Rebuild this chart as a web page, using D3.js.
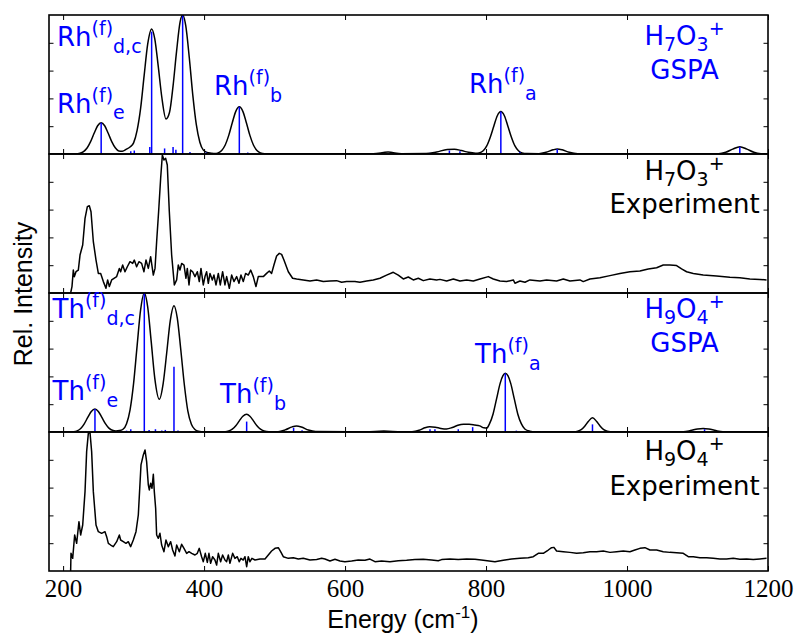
<!DOCTYPE html>
<html><head><meta charset="utf-8">
<script src="https://cdn.jsdelivr.net/npm/d3@7"></script>
<style>html,body{margin:0;padding:0;background:#fff;}</style>
</head><body>
<svg id="c" width="795" height="637"></svg>
<script>
// ---------------- DATA ----------------
const xTicks = [200, 400, 600, 800, 1000, 1200];
const yTicks = [0.2, 0.4, 0.6, 0.8];
const xDomain = [180, 1200];

// H7O3+ GSPA broadened spectrum [energy, rel. intensity]
const h7o3Gspa = [[180,0],[218,0],[224,0.005],[229,0.017],[234,0.043],[239,0.089],[244,0.149],[249,0.203],[254,0.225],[259,0.203],[264,0.149],[269,0.089],[274,0.045],[279,0.022],[284,0.02],[290,0.035],[295,0.05],[300,0.08],[305,0.17],[310,0.33],[315,0.566],[320,0.79],[325.6,0.9],[330,0.83],[335,0.63],[340,0.41],[346,0.252],[351,0.30],[356,0.49],[361,0.74],[366,0.95],[369.6,1.0],[374,0.923],[379,0.694],[384,0.424],[389,0.211],[394,0.085],[399,0.028],[404,0.012],[410,0.006],[415,0.003],[420,0.008],[425,0.026],[430,0.065],[435,0.134],[440,0.225],[445,0.307],[450,0.34],[455,0.307],[460,0.225],[465,0.134],[470,0.065],[475,0.026],[480,0.008],[486,0.002],[640,0.002],[661,0.014],[680,0.002],[715,0.003],[730,0.015],[745,0.032],[755,0.034],[765,0.025],[775,0.012],[785,0.006],[790,0.008],[796,0.023],[801,0.058],[806,0.121],[811,0.2],[816,0.275],[821,0.305],[826,0.275],[831,0.2],[836,0.121],[841,0.058],[846,0.023],[851,0.008],[858,0.003],[875,0.002],[885,0.012],[895,0.03],[901,0.036],[908,0.03],[918,0.012],[930,0.002],[1130,0.002],[1140,0.012],[1150,0.035],[1160,0.053],[1170,0.035],[1180,0.012],[1190,0.002],[1200,0]];
// H7O3+ GSPA sticks [energy, intensity]
const h7o3Sticks = [[254,0.225],[296,0.02],[301,0.025],[323,0.05],[325.6,0.88],[344,0.04],[356,0.05],[360,0.03],[369.6,1.0],[380,0.015],[403,0.01],[450,0.34],[462,0.01],[720,0.008],[748,0.025],[763,0.02],[821,0.305],[848,0.015],[901,0.036],[1160,0.053]];

// H7O3+ experiment [energy, rel. intensity]
const h7o3Exp = [[210.7,0],[212.6,0.046],[214.5,0.165],[215.9,0.117],[218.3,0.153],[221.6,0.165],[224.0,0.273],[227.8,0.345],[231.1,0.537],[234.4,0.621],[237.2,0.628],[239.6,0.585],[242.9,0.369],[246.7,0.237],[250.0,0.141],[253.3,0.141],[257.1,0.082],[260.8,0.034],[263.2,0.094],[265.6,0.046],[268.9,0.094],[272.2,0.106],[276.0,0.118],[279.8,0.177],[281.6,0.153],[284.5,0.201],[287.8,0.153],[291.1,0.189],[294.9,0.225],[298.7,0.213],[301.0,0.237],[304.3,0.189],[307.6,0.225],[311.4,0.213],[314.7,0.153],[317.6,0.237],[320.9,0.177],[324.2,0.261],[328.0,0.129],[330.4,0.177],[332.7,0.369],[335.5,0.585],[338.4,0.825],[340.8,0.993],[343.1,0.957],[345.5,0.969],[347.8,0.921],[350.7,0.585],[354.0,0.273],[357.8,0.058],[361.1,0.094],[363.4,0.201],[365.8,0.165],[368.2,0.213],[371.5,0.201],[374.3,0.106],[376.2,0.177],[378.6,0.058],[380.9,0.165],[383.8,0.153],[387.1,0.118],[390.4,0.153],[393.2,0.082],[395.6,0.177],[398.9,0.058],[401.3,0.118],[403.6,0.153],[406.0,0.070],[408.4,0.141],[411.7,0.094],[414.0,0.129],[416.9,0.058],[420.2,0.141],[423.0,0.058],[426.3,0.153],[429.6,0.058],[432.0,0.118],[435.8,0.034],[439.1,0.129],[442.4,0.082],[446.2,0.118],[449.5,0.070],[452.3,0.129],[455.6,0.082],[458.9,0.141],[462.7,0.129],[466.1,0.165],[469.8,0.118],[473.6,0.046],[476.9,0.118],[480.7,0.118],[484.0,0.118],[488.7,0.141],[492.5,0.158],[495.8,0.141],[499.1,0.201],[502.9,0.266],[506.7,0.285],[510.0,0.278],[513.3,0.237],[519.5,0.153],[525.6,0.106],[531.3,0.101],[540.7,0.094],[550.2,0.086],[559.7,0.094],[569.1,0.082],[578.6,0.086],[588.0,0.089],[595.1,0.077],[602.2,0.082],[614.0,0.082],[621.1,0.077],[630.6,0.086],[640.0,0.094],[649.5,0.106],[658.9,0.129],[668.4,0.149],[675.5,0.129],[682.6,0.101],[689.7,0.115],[696.8,0.094],[703.9,0.106],[711.0,0.089],[720.4,0.101],[729.9,0.094],[734.6,0.098],[744.1,0.086],[753.6,0.101],[763.0,0.086],[772.5,0.094],[781.9,0.086],[791.4,0.101],[803.2,0.118],[810.3,0.101],[819.7,0.086],[829.2,0.082],[838.7,0.094],[841.0,0.070],[848.1,0.086],[855.2,0.077],[862.3,0.094],[876.5,0.086],[885.9,0.094],[900.1,0.086],[909.6,0.101],[919.0,0.086],[933.2,0.094],[937.9,0.082],[947.4,0.101],[961.6,0.110],[975.8,0.125],[989.9,0.141],[1004.1,0.153],[1018.3,0.158],[1030.1,0.173],[1042.0,0.182],[1051.4,0.201],[1060.9,0.201],[1070.3,0.197],[1077.4,0.173],[1084.5,0.153],[1094.0,0.141],[1108.1,0.129],[1127.0,0.122],[1145.9,0.113],[1160.1,0.110],[1174.3,0.101],[1188.5,0.098],[1197.9,0.094]];

// H9O4+ GSPA broadened spectrum
const h9o4Gspa = [[180,0],[205,0],[215,0.002],[220,0.008],[225,0.025],[230,0.059],[235,0.105],[240,0.148],[245.2,0.166],[250,0.148],[255,0.105],[260,0.06],[265,0.028],[270,0.012],[275,0.008],[280,0.01],[285,0.02],[290,0.06],[295,0.16],[300,0.35],[305,0.62],[310,0.88],[315.2,1.0],[320,0.9],[325,0.65],[330,0.39],[336.5,0.235],[342,0.35],[347,0.57],[352,0.80],[357.3,0.909],[362,0.82],[367,0.59],[372,0.34],[377,0.15],[382,0.055],[387,0.018],[392,0.006],[400,0.002],[430,0.002],[435,0.007],[440,0.02],[445,0.045],[450,0.08],[455,0.113],[460.4,0.127],[465,0.113],[470,0.08],[475,0.045],[480,0.02],[485,0.007],[492,0.001],[505,0.002],[515,0.015],[525,0.037],[531,0.043],[538,0.036],[548,0.014],[558,0.003],[630,0.001],[655,0.008],[680,0.001],[695,0.002],[705,0.012],[713,0.03],[720,0.038],[728,0.035],[736,0.026],[744,0.022],[752,0.032],[760,0.048],[768,0.055],[776,0.055],[784,0.05],[791,0.044],[797,0.03],[801,0.028],[805,0.06],[810,0.13],[815,0.24],[820,0.35],[824,0.405],[827.3,0.422],[831,0.405],[835,0.35],[840,0.24],[845,0.13],[850,0.06],[855,0.022],[862,0.006],[870,0.001],[925,0.002],[930,0.006],[935,0.017],[940,0.042],[945,0.075],[951,0.103],[957,0.075],[962,0.042],[967,0.017],[972,0.006],[980,0.001],[1080,0.002],[1090,0.01],[1100,0.022],[1108,0.026],[1116,0.022],[1126,0.01],[1136,0.002],[1200,0]];
const h9o4Sticks = [[245.2,0.166],[290,0.01],[296,0.02],[315.2,1.0],[322,0.015],[331,0.02],[340,0.01],[345,0.015],[357.3,0.47],[363,0.01],[380,0.005],[460.4,0.075],[527,0.03],[539,0.012],[720.5,0.02],[727.5,0.02],[760.6,0.02],[781,0.035],[827.3,0.422],[843,0.01],[879,0.006],[951,0.055],[1094,0.008],[1110,0.02]];

// H9O4+ experiment
const h9o4Exp = [[210.7,0],[211.2,0.127],[213.6,0.091],[216.4,0.259],[219.2,0.199],[222.5,0.355],[224.9,0.259],[227.8,0.331],[231.1,0.571],[233.4,0.859],[235.8,0.990],[238.1,1.0],[240.5,0.859],[242.9,0.571],[246.7,0.331],[250.0,0.283],[254.7,0.271],[259.4,0.283],[261.8,0.247],[264.2,0.199],[267.5,0.187],[271.2,0.175],[276.0,0.211],[279.8,0.259],[281.6,0.223],[285.4,0.211],[289.2,0.199],[292.5,0.211],[295.8,0.175],[299.6,0.223],[303.4,0.283],[306.7,0.403],[310.5,0.763],[313.8,0.835],[316.2,0.871],[318.5,0.787],[320.9,0.619],[322.3,0.583],[324.2,0.631],[326.1,0.595],[328.0,0.696],[329.4,0.571],[331.3,0.451],[332.7,0.259],[335.1,0.235],[337.4,0.271],[339.8,0.187],[343.1,0.139],[345.9,0.223],[349.3,0.175],[352.6,0.211],[355.4,0.151],[358.7,0.108],[361.1,0.187],[364.9,0.139],[368.2,0.192],[371.5,0.163],[375.3,0.127],[378.6,0.139],[382.4,0.127],[387.1,0.115],[390.4,0.127],[393.2,0.163],[396.5,0.103],[398.9,0.067],[401.7,0.127],[404.6,0.062],[406.9,0.127],[409.3,0.055],[412.1,0.103],[415.4,0.079],[417.8,0.043],[420.2,0.127],[423.5,0.067],[426.3,0.115],[429.6,0.079],[432.0,0.067],[434.4,0.115],[436.7,0.055],[440.5,0.127],[443.8,0.091],[447.1,0.103],[449.9,0.067],[452.3,0.091],[455.6,0.079],[458.0,0.103],[460.4,0.031],[462.7,0.103],[465.1,0.067],[467.9,0.091],[472.2,0.079],[479.3,0.086],[486.4,0.086],[491.1,0.115],[495.8,0.144],[500.6,0.163],[505.3,0.168],[508.6,0.139],[512.4,0.103],[519.5,0.091],[526.5,0.096],[533.7,0.086],[540.7,0.091],[550.2,0.079],[559.7,0.082],[566.8,0.091],[571.5,0.086],[578.6,0.072],[585.7,0.084],[592.8,0.072],[599.8,0.067],[609.3,0.072],[618.7,0.079],[628.2,0.077],[635.3,0.086],[642.4,0.067],[651.8,0.072],[663.7,0.067],[675.5,0.074],[687.3,0.077],[699.1,0.082],[710.9,0.084],[722.8,0.079],[732.2,0.074],[737.0,0.082],[748.8,0.086],[760.6,0.082],[772.5,0.086],[784.3,0.084],[796.1,0.077],[812.6,0.067],[824.5,0.077],[836.3,0.086],[848.1,0.091],[859.9,0.096],[867.0,0.103],[874.1,0.127],[881.2,0.127],[888.3,0.151],[893.0,0.168],[896.3,0.170],[900.1,0.144],[909.6,0.139],[919.0,0.134],[928.5,0.127],[937.9,0.132],[947.4,0.139],[956.8,0.139],[966.3,0.144],[975.8,0.134],[985.2,0.139],[994.7,0.144],[1004.1,0.139],[1011.2,0.151],[1018.3,0.163],[1025.4,0.168],[1032.5,0.151],[1042.0,0.151],[1051.4,0.139],[1060.9,0.134],[1070.3,0.132],[1079.8,0.127],[1086.9,0.103],[1094.0,0.103],[1103.4,0.096],[1112.9,0.096],[1122.3,0.091],[1131.8,0.086],[1141.2,0.086],[1150.7,0.091],[1160.1,0.084],[1169.6,0.086],[1179.1,0.082],[1188.5,0.086],[1197.9,0.091]];

// Labels
const peakLabelsRh = [["d,c",57,46],["e",57,112.7],["b",214,95],["a",469,93.3]];
const peakLabelsTh = [["d,c",52.5,318.3],["e",52.5,400],["b",220,403.3],["a",475,363.3]];

// ---------------- DRAWING ----------------
const svg = d3.select("#c");
const L = 49, R = 768, panelH = 139;
const tops = [15, 154, 293, 432];
const x = d3.scaleLinear().domain(xDomain).range([L, R]);
const BLUE = "#0000ff";
const SANS = "'DejaVu Sans', sans-serif";

const panels = [
  {curve: h7o3Gspa, sticks: h7o3Sticks, smooth: true},
  {curve: h7o3Exp, sticks: null, smooth: false},
  {curve: h9o4Gspa, sticks: h9o4Sticks, smooth: true},
  {curve: h9o4Exp, sticks: null, smooth: false}
];

panels.forEach((p, i) => {
  const top = tops[i];
  const y = d3.scaleLinear().domain([0, 1]).range([top + panelH, top]);
  const g = svg.append("g");
  const cid = "clip" + i;
  svg.append("clipPath").attr("id", cid).append("rect")
    .attr("x", L).attr("y", top).attr("width", R - L).attr("height", panelH);
  const inner = g.append("g").attr("clip-path", `url(#${cid})`);
  const line = d3.line().x(d => x(d[0])).y(d => y(d[1]))
    .curve(p.smooth ? d3.curveMonotoneX : d3.curveLinear);
  inner.append("path").datum(p.curve).attr("d", line)
    .attr("fill", "none").attr("stroke", "#000").attr("stroke-width", 1.5)
    .attr("stroke-linejoin", "round");
  if (p.sticks) {
    inner.selectAll("line.s").data(p.sticks).enter().append("line")
      .attr("x1", d => x(d[0])).attr("x2", d => x(d[0]))
      .attr("y1", y(0)).attr("y2", d => y(d[1]))
      .attr("stroke", BLUE).attr("stroke-width", 1.5);
  }
  // axes (inward ticks on all four sides)
  const styleAxis = sel => { sel.select(".domain").remove(); sel.selectAll("line").attr("stroke", "#000").attr("stroke-width", 1); };
  g.append("g").attr("transform", `translate(0,${top})`)
    .call(d3.axisTop(x).tickValues(xTicks).tickSizeInner(-5).tickSizeOuter(0).tickFormat(""))
    .call(styleAxis);
  const bottom = g.append("g").attr("transform", `translate(0,${top + panelH})`)
    .call(d3.axisBottom(x).tickValues(xTicks).tickSizeInner(-5).tickSizeOuter(0)
      .tickFormat(i === 3 ? d3.format("d") : ""))
    .call(styleAxis);
  bottom.selectAll("text").attr("y", 26).attr("dy", 0)
    .attr("font-family", "'Liberation Serif', serif").attr("font-size", 25).attr("fill", "#000");
  g.append("g").attr("transform", `translate(${L},0)`)
    .call(d3.axisLeft(y).tickValues(yTicks).tickSizeInner(-4.5).tickSizeOuter(0).tickFormat(""))
    .call(styleAxis);
  g.append("g").attr("transform", `translate(${R},0)`)
    .call(d3.axisRight(y).tickValues(yTicks).tickSizeInner(-4.5).tickSizeOuter(0).tickFormat(""))
    .call(styleAxis);
  g.append("rect").attr("x", L).attr("y", top).attr("width", R - L).attr("height", panelH)
    .attr("fill", "none").attr("stroke", "#000").attr("stroke-width", 1.6);
});

// rich text helper: segments [text, size, dy]
function rich(xp, yp, segs, color, anchor) {
  const t = svg.append("text").attr("x", xp).attr("y", yp)
    .attr("font-family", SANS).attr("fill", color).attr("text-anchor", anchor || "start");
  segs.forEach(s => t.append("tspan").attr("font-size", s[1]).attr("dy", s[2]).text(s[0]));
  return t;
}
function peakLabel(base, sub, xp, yp) {
  rich(xp, yp, [[base, 26, 0], ["(f)", 19, -11], [sub, 19, 17.5]], BLUE);
}
peakLabelsRh.forEach(d => peakLabel("Rh", d[0], d[1], d[2]));
peakLabelsTh.forEach(d => peakLabel("Th", d[0], d[1], d[2]));

function molLabel(n1, n2, yp1, yp2, word, color) {
  rich(684.5, yp1, [["H", 26, 0], [n1, 19, 6], ["O", 26, -6], [n2, 19, 6], ["+", 19, -16]], color, "middle");
  svg.append("text").attr("x", 684.5).attr("y", yp2).attr("text-anchor", "middle")
    .attr("font-family", SANS).attr("font-size", 26).attr("fill", color).text(word);
}
molLabel("7", "3", 45, 79, "GSPA", BLUE);
molLabel("7", "3", 180, 213, "Experiment", "#000");
molLabel("9", "4", 318.3, 351.7, "GSPA", BLUE);
molLabel("9", "4", 460, 495, "Experiment", "#000");

// axis titles
svg.append("text").attr("transform", "translate(31.5,294) rotate(-90)")
  .attr("text-anchor", "middle").attr("font-family", "'Liberation Sans', Arial, sans-serif")
  .attr("font-size", 25).text("Rel. Intensity");
const xl = svg.append("text").attr("x", 403).attr("y", 628).attr("text-anchor", "middle")
  .attr("font-family", "'Liberation Sans', Arial, sans-serif").attr("font-size", 25);
xl.append("tspan").text("Energy (cm");
xl.append("tspan").attr("font-size", 17).attr("dy", -10).text("-1");
xl.append("tspan").attr("dy", 10).text(")");
</script>
</body></html>
